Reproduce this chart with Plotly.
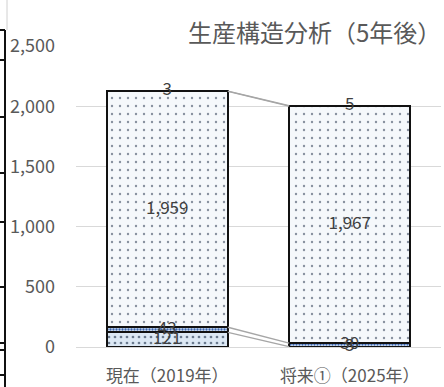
import plotly.graph_objects as go

categories = ["現在（2019年）", "将来①（2025年）"]
series1 = [121, 3]
series2 = [43, 30]
series3 = [1959, 1967]
series4 = [3, 5]
y_ticks = [0, 500, 1000, 1500, 2000, 2500]
title_text = "生産構造分析（5年後）"

W, H = 444, 387
L, R, T, B = 76, 3, 46, 40
FONT = "Noto Sans CJK JP"
bar_w = 0.665
xpos = list(range(len(categories)))

styles = [
    dict(shape=".", fgcolor="#6a7a8e", bgcolor="#dce8f4", size=6, solidity=0.16),
    dict(shape=".", fgcolor="#3a64b0", bgcolor="#cfdff0", size=3, solidity=0.45),
    dict(shape=".", fgcolor="#87919f", bgcolor="#f5f8fb", size=8, solidity=0.07),
    dict(shape=".", fgcolor="#87919f", bgcolor="#f5f8fb", size=8, solidity=0.07),
]

fig = go.Figure()
all_series = [series1, series2, series3, series4]
for vals, st in zip(all_series, styles):
    fig.add_trace(go.Bar(
        x=xpos, y=vals, width=bar_w,
        marker=dict(color=st["bgcolor"], line=dict(color="#111111", width=2),
                    pattern=dict(shape=st["shape"], fgcolor=st["fgcolor"], bgcolor=st["bgcolor"],
                                 size=st["size"], solidity=st["solidity"], fillmode="replace")),
        showlegend=False, hoverinfo="skip",
    ))

# series lines connecting stack boundaries
cum = [0 for _ in xpos]
for vals in all_series:
    cum = [c + v for c, v in zip(cum, vals)]
    fig.add_trace(go.Scatter(
        x=[xpos[0] + bar_w / 2, xpos[1] - bar_w / 2], y=[cum[0], cum[1]],
        mode="lines", line=dict(color="#a6a6a6", width=1.3),
        showlegend=False, hoverinfo="skip",
    ))

# data labels at segment centers
base = [0 for _ in xpos]
for vals in all_series:
    mids = [b + v / 2 for b, v in zip(base, vals)]
    fig.add_trace(go.Scatter(
        x=xpos, y=mids, mode="text", text=[f"{v:,}" for v in vals],
        textposition="middle center",
        textfont=dict(family=FONT, size=17, color="#404040"),
        showlegend=False, hoverinfo="skip", cliponaxis=False,
    ))
    base = [b + v for b, v in zip(base, vals)]

pw = W - L - R
ph = H - T - B
def px(x):
    return (x - L) / pw
def py(y):
    return (H - B - y) / ph

shapes = [
    dict(type="line", xref="paper", yref="paper", x0=px(5), x1=px(5), y0=py(30), y1=py(387),
         line=dict(color="#111111", width=2)),
    dict(type="line", xref="paper", yref="paper", x0=px(7), x1=px(7), y0=py(0), y1=py(30),
         line=dict(color="#d0d0d0", width=1)),
]
for yy in [30, 60, 117, 173, 222, 287, 343, 350, 375]:
    shapes.append(dict(type="line", xref="paper", yref="paper", x0=px(0), x1=px(5),
                       y0=py(yy), y1=py(yy), line=dict(color="#111111", width=2)))

fig.update_layout(
    width=W, height=H,
    margin=dict(l=L, r=R, t=T, b=B),
    paper_bgcolor="white", plot_bgcolor="white",
    barmode="stack",
    bargap=0,
    font=dict(family=FONT, color="#595959"),
    annotations=[dict(text=title_text, font=dict(family=FONT, size=24, color="#595959"),
                      xref="paper", yref="paper", x=px(443), y=py(31),
                      xanchor="right", yanchor="middle", showarrow=False)],
    xaxis=dict(range=[-0.5, 1.5], tickvals=xpos, ticktext=categories, showgrid=False,
               zeroline=False, showline=False, ticks="", ticklabelstandoff=17, automargin=False,
               tickfont=dict(family=FONT, size=17, color="#595959")),
    yaxis=dict(range=[0, 2500], tickvals=y_ticks, tickformat=",", showgrid=True,
               gridcolor="#d9d9d9", gridwidth=1, zeroline=True, zerolinecolor="#d9d9d9",
               zerolinewidth=1, showline=False, ticks="", ticklabelstandoff=20, automargin=False,
               tickfont=dict(family=FONT, size=18, color="#595959")),
    shapes=shapes,
)

fig.write_html("out.html", config={"displayModeBar": False},
               post_script="document.body.style.margin='0';document.body.style.padding='0';document.body.style.overflow='hidden';")
